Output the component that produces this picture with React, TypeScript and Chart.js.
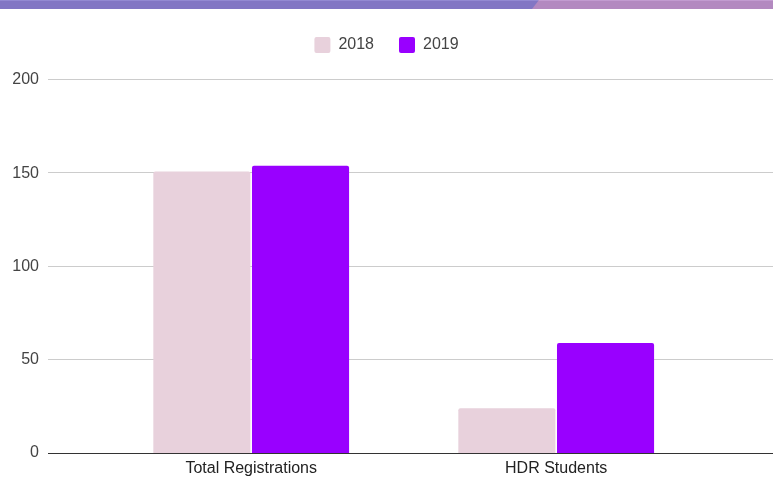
import React, { useEffect, useRef } from "react";
import { Chart, registerables } from "chart.js";

Chart.register(...registerables);

const categories = ["Total Registrations", "HDR Students"];
const seriesLabels = ["2018", "2019"];
const values2018 = [151, 24];
const values2019 = [154, 59];
const yTicks = [0, 50, 100, 150, 200];

const FONT = "'Liberation Sans', Arial, sans-serif";

const gridPlugin = {
  id: "fullGrid",
  beforeLayout(chart: any) {
    const lg = chart.legend;
    if (lg && !lg._patched) {
      const f = lg.fit;
      lg.fit = function () {
        f.call(this);
        this.height += 17;
      };
      lg._patched = true;
    }
  },
  beforeDatasetsDraw(chart: any) {
    const { ctx } = chart;
    const y = chart.scales.y;
    ctx.save();
    ctx.fillStyle = "#cccccc";
    yTicks.forEach((v) => {
      if (v === 0) return;
      const py = Math.round(y.getPixelForValue(v)) - 1;
      ctx.fillRect(48, py, chart.width - 48, 1);
    });
    ctx.restore();
  },
  afterDatasetsDraw(chart: any) {
    const { ctx } = chart;
    const y = chart.scales.y;
    const py = Math.round(y.getPixelForValue(0));
    ctx.save();
    ctx.fillStyle = "#333333";
    ctx.fillRect(48, py, chart.width - 48, 1);
    ctx.restore();
  },
};

export default function App() {
  const ref = useRef<HTMLCanvasElement>(null);
  useEffect(() => {
    if (!ref.current) return;
    const barStyle = {
      borderWidth: 0,
      borderRadius: { topLeft: 2, topRight: 2, bottomLeft: 0, bottomRight: 0 },
      borderSkipped: false,
      categoryPercentage: 0.647,
      barPercentage: 0.984,
    };
    const chart = new Chart(ref.current, {
      type: "bar",
      data: {
        labels: categories,
        datasets: [
          { label: seriesLabels[0], data: values2018, backgroundColor: "#e8d1dc", ...barStyle },
          { label: seriesLabels[1], data: values2019, backgroundColor: "#9900ff", ...barStyle },
        ],
      },
      options: {
        animation: false,
        responsive: true,
        maintainAspectRatio: false,
        devicePixelRatio: 1,
        layout: { padding: { top: 12, left: 0, right: 0, bottom: 0 } },
        plugins: {
          tooltip: { enabled: false },
          legend: {
            position: "top",
            align: "center",
            labels: {
              boxWidth: 16,
              boxHeight: 16,
              padding: 25,
              useBorderRadius: true,
              borderRadius: 2,
              color: "#444444",
              font: { family: FONT, size: 16 },
            },
          },
        },
        scales: {
          x: {
            grid: { display: false, drawTicks: false },
            border: { display: false },
            ticks: {
              color: "#222222",
              padding: 6,
              font: { family: FONT, size: 16 },
            },
            afterFit: (s: any) => {
              s.height = 42;
            },
          },
          y: {
            min: 0,
            max: 200,
            position: "left",
            grid: { display: false, drawTicks: false },
            border: { display: false },
            ticks: {
              stepSize: 50,
              color: "#444444",
              padding: 59.7,
              font: { family: FONT, size: 16 },
            },
            afterFit: (s: any) => {
              s.width = 98.7;
              s.paddingTop = 10;
              s.paddingBottom = 10;
            },
          },
          yRight: {
            type: "linear",
            position: "right",
            display: true,
            grid: { display: false, drawTicks: false },
            border: { display: false },
            ticks: { display: false },
            afterFit: (s: any) => {
              s.width = 64.3;
              s.paddingTop = 0;
              s.paddingBottom = 0;
            },
          },
        },
      },
      plugins: [gridPlugin],
    } as any);
    return () => chart.destroy();
  }, []);

  return (
    <div style={{ position: "absolute", left: 0, top: 0, width: 773, height: 495, background: "#ffffff" }}>
      <div style={{ position: "absolute", left: 0, top: 0, width: 773, height: 495 }}>
        <canvas ref={ref} />
      </div>
      <div
        style={{
          position: "absolute",
          left: 0,
          top: 0,
          width: 773,
          height: 9,
          background: "#8276c4",
          borderTop: "1px solid #9389d2",
          boxSizing: "border-box",
        }}
      />
      <div
        style={{
          position: "absolute",
          left: 0,
          top: 0,
          width: 773,
          height: 9,
          background: "#b389c0",
          borderTop: "1px solid #c29bd0",
          boxSizing: "border-box",
          clipPath: "polygon(539px 0, 773px 0, 773px 9px, 532px 9px)",
        }}
      />
    </div>
  );
}
